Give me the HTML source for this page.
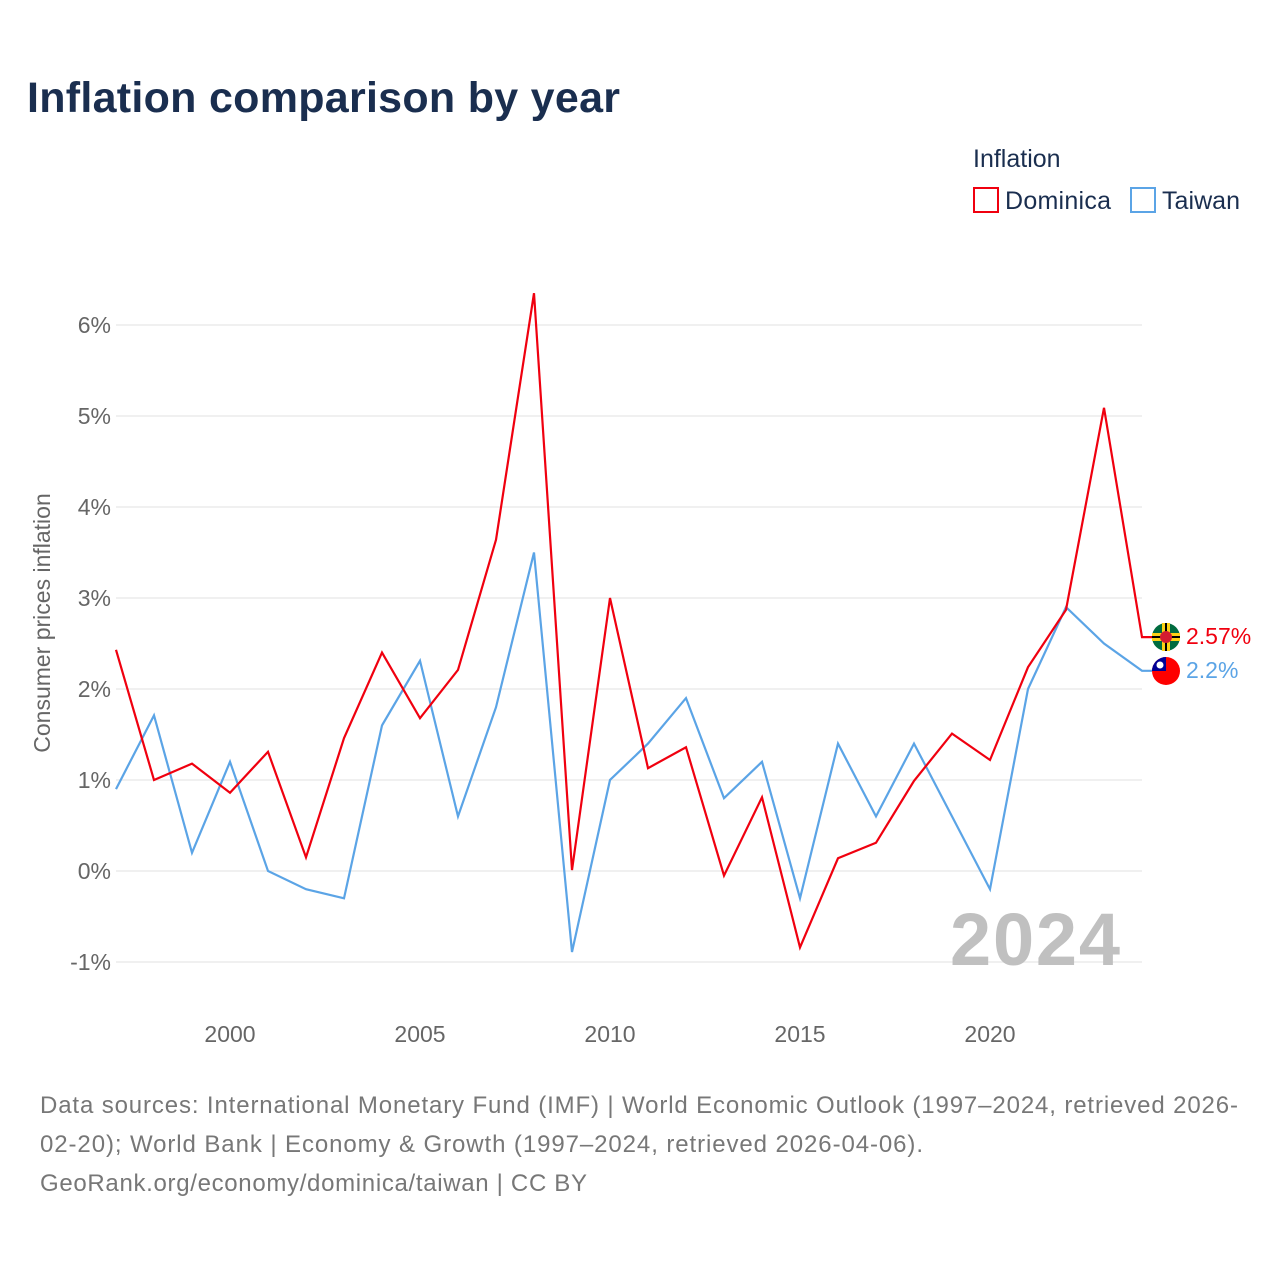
<!DOCTYPE html>
<html><head><meta charset="utf-8"><style>
body{margin:0;background:#fff;font-family:"Liberation Sans",sans-serif}
#c{position:relative;width:1280px;height:1280px}
</style></head><body>
<div id="c">
<svg id="s" width="1280" height="1280" xmlns="http://www.w3.org/2000/svg">
<text x="27" y="112" font-size="43" font-weight="bold" fill="#1a2e4f" textLength="593">Inflation comparison by year</text>
<text x="973" y="167" font-size="25" fill="#1a2e4f">Inflation</text>
<g><rect x="974" y="188" width="24" height="24" fill="none" stroke="#f0000f" stroke-width="2"/><text x="1005" y="209" font-size="25" fill="#1a2e4f" textLength="106">Dominica</text></g>
<g><rect x="1131" y="188" width="24" height="24" fill="none" stroke="#5ba4e6" stroke-width="2"/><text x="1162" y="209" font-size="25" fill="#1a2e4f" textLength="78">Taiwan</text></g>
<g id="grid"></g>
<text x="1120" y="965" font-size="74" font-weight="bold" fill="#c0c0c0" text-anchor="end" textLength="170">2024</text>
<text transform="translate(50,623) rotate(-90)" font-size="23" fill="#666" text-anchor="middle">Consumer prices inflation</text>
<g id="lines"></g>
<g><circle cx="1166" cy="637" r="14" fill="#006b3f"/><rect x="1152" y="633" width="28" height="8" fill="#fcd116"/><rect x="1162" y="623" width="8" height="28" fill="#fcd116"/><rect x="1152" y="636" width="28" height="2" fill="#000"/><rect x="1165" y="623" width="2" height="28" fill="#000"/><circle cx="1166" cy="637" r="6" fill="#d41c30"/></g>
<g><circle cx="1166" cy="671" r="14" fill="#fe0000"/><path d="M1152 671 A14 14 0 0 1 1166 657 L1166 671Z" fill="#000095"/><circle cx="1160" cy="665" r="3.5" fill="#fff"/></g>
<text x="1186" y="644" font-size="23" fill="#f0000f">2.57%</text>
<text x="1186" y="678" font-size="23" fill="#5ba4e6">2.2%</text>
<text font-size="24" fill="#777"><tspan x="40" y="1113" textLength="1198">Data sources: International Monetary Fund (IMF) | World Economic Outlook (1997–2024, retrieved 2026-</tspan><tspan x="40" y="1152" textLength="883">02-20); World Bank | Economy &amp; Growth (1997–2024, retrieved 2026-04-06).</tspan><tspan x="40" y="1191" textLength="547">GeoRank.org/economy/dominica/taiwan | CC BY</tspan></text>
</svg></div>
<script>
const years=[1997,1998,1999,2000,2001,2002,2003,2004,2005,2006,2007,2008,2009,2010,2011,2012,2013,2014,2015,2016,2017,2018,2019,2020,2021,2022,2023,2024];
const dominica=[2.43,1.0,1.18,0.86,1.31,0.15,1.46,2.40,1.68,2.21,3.64,6.35,0.01,3.0,1.13,1.36,-0.05,0.81,-0.84,0.14,0.31,0.99,1.51,1.22,2.24,2.87,5.09,2.57];
const taiwan=[0.90,1.71,0.20,1.20,0.0,-0.2,-0.3,1.6,2.31,0.6,1.8,3.5,-0.89,1.0,1.4,1.9,0.8,1.2,-0.3,1.4,0.6,1.4,0.6,-0.2,2.0,2.9,2.5,2.2];
const yTicks=[-1,0,1,2,3,4,5,6];
const xTicks=[2000,2005,2010,2015,2020];
const NS="http://www.w3.org/2000/svg";
const xs=y=>116+(y-1997)*38;
const ys=v=>871-v*91;
const grid=document.getElementById('grid'),lines=document.getElementById('lines');
function mk(t,a,p){const e=document.createElementNS(NS,t);for(const k in a)e.setAttribute(k,a[k]);p.appendChild(e);return e;}
yTicks.forEach(t=>{
 const l=mk('line',{x1:116,x2:1142,y1:ys(t),y2:ys(t),stroke:'#ebebeb','stroke-width':1.5},grid);
 
 
 const tx=mk('text',{x:111,y:ys(t)+8,'font-size':23,fill:'#666','text-anchor':'end'},grid);
 tx.textContent=t+'%';
 
 
});
xTicks.forEach(t=>{
 const tx=mk('text',{x:xs(t),y:1042,'font-size':23,fill:'#666','text-anchor':'middle'},grid);
 tx.textContent=t;
 
 
});
function series(vals,col,name){
 let d=vals.map((v,i)=>(i?'L':'M')+xs(years[i])+' '+ys(vals[i])).join(' ');
 d+=' L'+(xs(2024)+10)+' '+ys(vals[vals.length-1]);
 const p=mk('path',{d:d,fill:'none',stroke:col,'stroke-width':2.2,'stroke-linejoin':'miter'},lines);
 
 
}
series(taiwan,'#5ba4e6','line-taiwan');
series(dominica,'#f0000f','line-dominica');
</script>
</body></html>
